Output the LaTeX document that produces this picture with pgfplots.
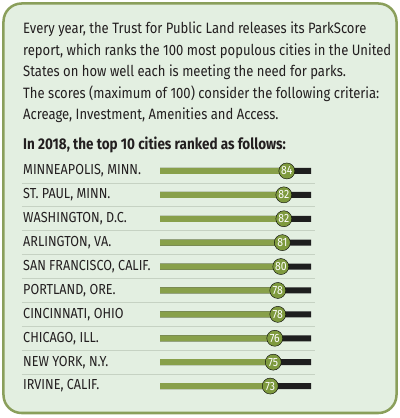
\documentclass[border=0pt]{standalone}
\usepackage{fontspec}
\setmainfont{Fira Sans}[FakeStretch=0.87]
\usepackage{pgfplots}
\pgfplotsset{compat=1.18}
\usepackage{pgfplotstable}
\definecolor{bg}{HTML}{E3EFE1}
\definecolor{border}{HTML}{8A9F5B}
\definecolor{bargreen}{HTML}{88A04A}
\definecolor{circ}{HTML}{7E9A3E}
\definecolor{track}{HTML}{1E1E1E}
\definecolor{txt}{HTML}{231F20}
\definecolor{sep}{HTML}{C6D2C3}

\pgfplotstableread{
idx score max
0 84 100
1 82 100
2 82 100
3 81 100
4 80 100
5 78 100
6 78 100
7 76 100
8 75 100
9 73 100
}\scores

\begin{document}
\begin{tikzpicture}[x=1bp,y=1bp]
\useasboundingbox (0,0) rectangle (400,418);
\draw[line width=2.5bp, draw=border, fill=bg, rounded corners=18bp] (3.5,5) rectangle (396.5,414.5);
\begin{scope}[every node/.style={anchor=base west, inner sep=0pt, text=txt, font=\fontsize{15bp}{16bp}\selectfont}]
\node at (23,385) {Every year, the Trust for Public Land releases its ParkScore};
\node at (23,363) {report, which ranks the 100 most populous cities in the United};
\node at (23,342) {States on how well each is meeting the need for parks.};
\node at (23,320) {The scores (maximum of 100) consider the following criteria:};
\node at (23,299) {Acreage, Investment, Amenities and Access.};
\node[font=\fontsize{15.5bp}{16bp}\selectfont\bfseries] at (23,269) {In 2018, the top 10 cities ranked as follows:};
\end{scope}
\begin{axis}[
  at={(160bp,259bp)}, anchor=north west,
  scale only axis, width=151bp, height=239bp,
  xmin=0, xmax=100, ymin=-0.5, ymax=9.5, y dir=reverse,
  clip=false,
  axis line style={draw=none},
  xtick=\empty,
  ytick={0,...,9},
  yticklabels={{MINNEAPOLIS, MINN.},{ST. PAUL, MINN.},{WASHINGTON, D.C.},{ARLINGTON, VA.},{SAN FRANCISCO, CALIF.},{PORTLAND, ORE.},{CINCINNATI, OHIO},{CHICAGO, ILL.},{NEW YORK, N.Y.},{IRVINE, CALIF.}},
  major tick length=0pt,
  yticklabel style={anchor=west, xshift=-137bp, inner xsep=0pt, text=txt, font=\fontsize{14.5bp}{16bp}\selectfont},
  bar width=6bp,
  /pgf/number format/assume math mode=true,
]
\pgfplotsinvokeforeach{0.5,1.5,2.5,3.5,4.5,5.5,6.5,7.5,8.5}{
  \draw[sep, line width=0.8bp] (axis cs:-91.4,#1) -- (axis cs:102.6,#1);
}
\addplot[xbar, bar shift=0pt, fill=track, draw=none] table[x=max, y=idx] {\scores};
\addplot[xbar, bar shift=0pt, fill=bargreen, draw=none] table[x=score, y=idx] {\scores};
\addplot[only marks, mark=*, mark size=8bp, mark options={fill=circ, draw=none},
  point meta=explicit, nodes near coords,
  every node near coord/.append style={anchor=center, text=white, inner sep=0pt, font=\fontsize{12bp}{12bp}\selectfont}]
  table[x=score, y=idx, meta=score] {\scores};
\end{axis}
\end{tikzpicture}
\end{document}
